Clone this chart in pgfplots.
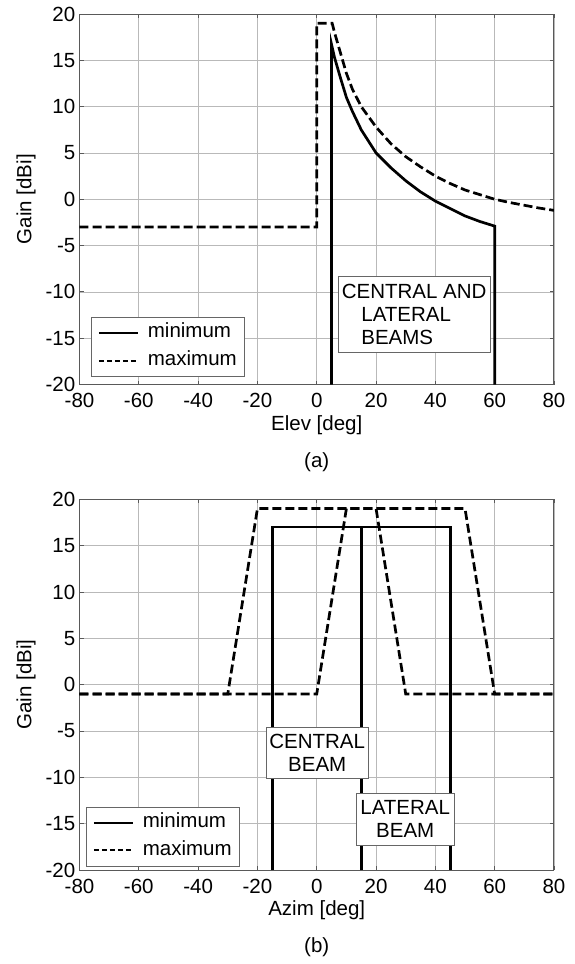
\documentclass[border=0pt]{standalone}
\usepackage{pgfplots}
\pgfplotsset{compat=1.18}
\usepackage{pgfplotstable}
\usepackage{fontspec}
\setmainfont{Liberation Sans}
\newcommand{\fs}{\fontsize{20.5}{23.3}\selectfont}

\pgfplotstableread{
x y
5 -20
5 16.7
6 15.3
7 14.2
8 13.1
10 11.0
12 9.5
15 7.5
20 5.0
25 3.4
30 2.0
35 0.8
40 -0.2
45 -1.0
50 -1.8
55 -2.4
60 -2.9
60 -20
}\minA

\pgfplotstableread{
x y
-80 -3
0 -3
0 19
5.2 19
6 18.0
7 16.9
8 15.8
9 14.7
10 13.6
12 11.9
15 10.0
20 7.8
25 6.0
30 4.6
35 3.5
40 2.5
45 1.7
50 1.0
55 0.5
60 0.0
65 -0.35
70 -0.65
75 -0.95
80 -1.2
}\maxA

\pgfplotstableread{
x y
-15 -20
-15 17
15 17
15 -20
}\minBc

\pgfplotstableread{
x y
15 -20
15 17
45 17
45 -20
}\minBl

\pgfplotstableread{
x y
-80 -1
-30 -1
-20 19
20 19
30 -1
80 -1
}\maxBc

\pgfplotstableread{
x y
-80 -1
0 -1
10 19
50 19
60 -1
80 -1
}\maxBl

\tikzset{
  solidline/.style={black, line width=2.7pt, line join=miter},
  dashline/.style={black, line width=2.7pt, dash pattern=on 9pt off 4pt},
  boxnode/.style={draw=black!60, fill=white, font=\fs, inner sep=0pt},
}

\pgfplotsset{
  gainax/.style={
    scale only axis, width=474.5pt, height=370.5pt,
    xmin=-80, xmax=80, ymin=-20, ymax=20,
    xtick={-80,-60,...,80}, ytick={-20,-15,...,20},
    xticklabels={-80,-60,-40,-20,0,20,40,60,80},
    yticklabels={-20,-15,-10,-5,0,5,10,15,20},
    tick label style={font=\fs, text=black},
    xticklabel style={anchor=center, yshift=-16pt, inner sep=0pt},
    yticklabel style={anchor=east, xshift=-4pt, inner sep=0pt},
    grid=major, major grid style={gray!55, line width=0.7pt},
    axis line style={black!65, line width=1pt},
    tick style={black!65, line width=0.8pt}, tick align=inside, major tick length=4pt,
    label style={font=\fs},
    ylabel={Gain [dBi]},
    ylabel style={at={(axis description cs:-0.1128,0.5)}, anchor=center},
    legend image code/.code={\draw[##1] (0pt,0pt) -- (39pt,0pt);},
    legend style={anchor=south west, draw=black!60, fill=white, font=\fs,
      inner xsep=7pt, inner ysep=7pt, column sep=9pt, row sep=9.7pt,
      nodes={inner sep=0pt, text height=14pt, text depth=4pt}},
    legend cell align=left,
  },
}

\begin{document}
\begin{tikzpicture}
\useasboundingbox (0,0) rectangle (574pt,-964pt);

% ---------------- (a) ----------------
\begin{axis}[gainax, at={(79.5pt,-384.5pt)}, anchor=south west,
  xlabel={Elev [deg]},
  xlabel style={at={(axis description cs:0.5,-0.1093)}, anchor=center},
  legend style={at={(axis description cs:0.0236,0.021)}},
]
\addplot[solidline, forget plot] table[x=x,y=y] {\minA};
\addplot[dashline, forget plot] table[x=x,y=y] {\maxA};
\addlegendimage{black, line width=2pt}
\addlegendentry{minimum}
\addlegendimage{black, line width=2pt, dash pattern=on 5pt off 3pt}
\addlegendentry{maximum}
\node[boxnode, anchor=north west, minimum width=152pt, minimum height=76pt,
  inner xsep=3pt, align=left]
  at (axis cs:7.17,-8.29) {CENTRAL AND\\\hspace*{19.5pt}LATERAL\\\hspace*{19.5pt}BEAMS};
\end{axis}
\node[font=\fs, anchor=center] at (316.75pt,-462pt) {(a)};

% ---------------- (b) ----------------
\begin{axis}[gainax, height=370.7pt, at={(79.5pt,-870pt)}, anchor=south west,
  xlabel={Azim [deg]},
  xlabel style={at={(axis description cs:0.5,-0.1079)}, anchor=center},
  legend style={at={(axis description cs:0.013,0.009)}},
]
\addplot[solidline, forget plot] table[x=x,y=y] {\minBc};
\addplot[solidline, forget plot] table[x=x,y=y] {\minBl};
\addplot[dashline, forget plot] table[x=x,y=y] {\maxBc};
\addplot[dashline, forget plot] table[x=x,y=y] {\maxBl};
\addlegendimage{black, line width=2pt}
\addlegendentry{minimum}
\addlegendimage{black, line width=2pt, dash pattern=on 5pt off 3pt}
\addlegendentry{maximum}
\node[boxnode, anchor=north west, minimum width=102.6pt, minimum height=51.6pt,
  align=center] at (axis cs:-17.21,-4.53) {CENTRAL\\BEAM};
\node[boxnode, anchor=north west, minimum width=98.6pt, minimum height=52.3pt,
  align=center] at (axis cs:13.14,-11.65) {LATERAL\\BEAM};
\end{axis}
\node[font=\fs, anchor=center] at (316.75pt,-947pt) {(b)};
\end{tikzpicture}
\end{document}
